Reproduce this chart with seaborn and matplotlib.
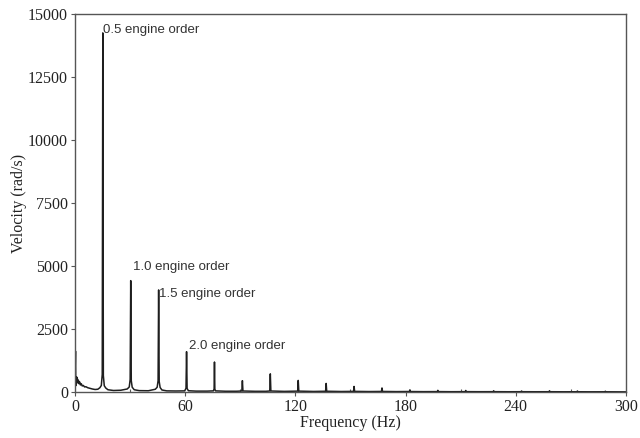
import matplotlib
matplotlib.use("Agg")
import matplotlib.pyplot as plt
import seaborn as sns
import pandas as pd
from matplotlib.ticker import MultipleLocator

# Spectrum trace (frequency in Hz, velocity in rad/s)
freq_hz = [0.0, 0.35, 0.5, 0.65, 0.8, 0.95, 1.1, 1.3, 1.6, 1.9, 2.2, 2.6, 3.0, 3.5, 4.0, 4.6, 5.3, 6.0, 7.0, 8.0,
           9.5, 11.0, 12.5, 13.6, 14.4, 14.9, 15.2, 15.5, 16.0, 16.8, 18.0, 21.0, 25.0, 28.5, 29.6, 30.1, 30.4,
           30.7, 31.2, 32.3, 35.0, 40.0, 43.8, 44.8, 45.3, 45.6, 45.9, 46.4, 47.4, 50.0, 55.0, 59.8, 60.5, 60.8,
           61.1, 61.8, 66.0, 72.0, 75.4, 75.8, 76.0, 76.2, 76.6, 82.0, 88.0, 90.9, 91.2, 91.5, 98.0, 104.0, 106.1,
           106.4, 106.7, 114.0, 121.3, 121.6, 121.9, 130.0, 136.5, 136.8, 137.1, 145.0, 151.7, 152.0, 152.3,
           160.0, 166.9, 167.2, 167.5, 175.0, 182.1, 182.4, 182.7, 190.0, 197.3, 197.6, 197.9, 205.0, 212.5,
           212.8, 213.1, 220.0, 227.7, 228.0, 228.3, 236.0, 242.9, 243.2, 243.5, 250.0, 258.1, 258.4, 258.7,
           266.0, 273.3, 273.6, 273.9, 281.0, 288.5, 288.8, 289.1, 300.0]
velocity = [300, 1620, 250, 520, 380, 600, 420, 550, 360, 470, 330, 400, 280, 330, 240, 260, 200, 210, 170, 150,
            120, 100, 110, 170, 260, 700, 14250, 650, 250, 160, 90, 60, 70, 120, 200, 500, 4420, 450, 190, 90,
            55, 50, 110, 190, 450, 4050, 420, 180, 80, 45, 40, 45, 150, 1600, 140, 50, 35, 35, 45, 120, 1190,
            110, 45, 30, 30, 40, 450, 40, 28, 28, 40, 720, 40, 25, 35, 460, 35, 22, 30, 340, 30, 20, 25, 220,
            25, 18, 22, 160, 22, 16, 20, 85, 18, 14, 16, 65, 16, 12, 14, 60, 14, 12, 13, 50, 13, 10, 12, 40,
            12, 10, 11, 50, 11, 9, 10, 40, 10, 8, 9, 30, 9, 5]

ann_text = ["0.5 engine order", "1.0 engine order", "1.5 engine order", "2.0 engine order"]
ann_x = [15.2, 31.5, 45.6, 62.0]
ann_y = [14350, 4970, 3880, 1830]

x_ticks = [0, 60, 120, 180, 240, 300]
y_ticks = [0, 2500, 5000, 7500, 10000, 12500, 15000]

df = pd.DataFrame({"Frequency (Hz)": freq_hz, "Velocity (rad/s)": velocity})

sns.set_theme(style="ticks")
serif = ["Liberation Serif", "DejaVu Serif"]
sans = ["Liberation Sans", "DejaVu Sans"]
plt.rcParams["font.family"] = serif

fig = plt.figure(figsize=(6.4, 4.38), dpi=100)
ax = fig.add_axes([0.117, 0.105, 0.861, 0.863])

sns.lineplot(data=df, x="Frequency (Hz)", y="Velocity (rad/s)", ax=ax,
             color="#1e1e1e", linewidth=1.1, sort=False, estimator=None)

for t, xx, yy in zip(ann_text, ann_x, ann_y):
    ax.text(xx, yy, t, fontsize=9.5, family=sans, color="#333333", va="center", ha="left")

ax.set_xlim(0, 300)
ax.set_ylim(0, 15000)
ax.set_xticks(x_ticks)
ax.set_yticks(y_ticks)
ax.xaxis.set_minor_locator(MultipleLocator(30))
ax.tick_params(axis="both", which="major", direction="out", length=3, width=0.8,
               color="#555555", labelsize=11.5, pad=2, labelcolor="#222222")
ax.tick_params(axis="x", which="minor", direction="in", length=2.5, width=0.8, color="#555555")
ax.set_xlabel("Frequency (Hz)", fontsize=11.5, color="#222222", labelpad=0)
ax.set_ylabel("Velocity (rad/s)", fontsize=11.5, color="#222222", labelpad=1)
for s in ax.spines.values():
    s.set_visible(True)
    s.set_color("#555555")
    s.set_linewidth(1.0)

fig.savefig("out.png", dpi=100, facecolor="white")
